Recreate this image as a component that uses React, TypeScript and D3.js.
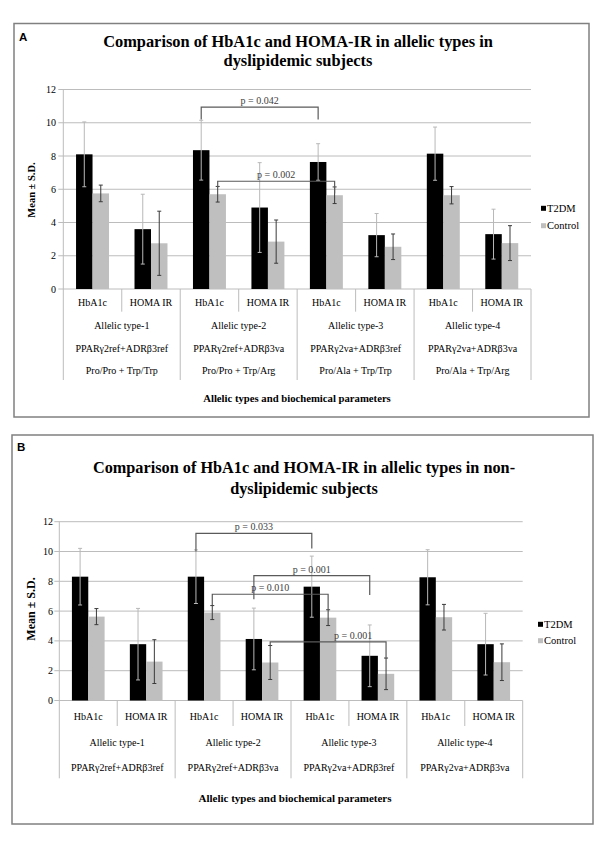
import React from "react";
import * as d3 from "d3";

// ---------- data ----------
const categories = ["HbA1c", "HOMA IR", "HbA1c", "HOMA IR", "HbA1c", "HOMA IR", "HbA1c", "HOMA IR"];
const allelicTypes = ["Allelic type-1", "Allelic type-2", "Allelic type-3", "Allelic type-4"];
const genotypes = ["PPARγ2ref+ADRβ3ref", "PPARγ2ref+ADRβ3va", "PPARγ2va+ADRβ3ref", "PPARγ2va+ADRβ3va"];
const aminoAcids = ["Pro/Pro + Trp/Trp", "Pro/Pro + Trp/Arg", "Pro/Ala + Trp/Trp", "Pro/Ala + Trp/Arg"];
const seriesNames = ["T2DM", "Control"];
const yTicks = [0, 2, 4, 6, 8, 10, 12];

const titleA = ["Comparison of HbA1c and HOMA-IR in allelic types in", "dyslipidemic subjects"];
const titleB = ["Comparison of HbA1c and HOMA-IR in allelic types in non-", "dyslipidemic subjects"];
const yTitle = "Mean ± S.D.";
const xTitle = "Allelic types and biochemical parameters";

// Panel A (dyslipidemic)
const t2dmMeanA = [8.1, 3.6, 8.35, 4.9, 7.64, 3.24, 8.14, 3.3];
const t2dmSdA = [1.95, 2.1, 1.8, 2.7, 1.1, 1.3, 1.6, 1.5];
const controlMeanA = [5.75, 2.75, 5.7, 2.85, 5.64, 2.54, 5.64, 2.76];
const controlSdA = [0.5, 1.93, 0.47, 1.3, 0.5, 0.77, 0.52, 1.05];

// Panel B (non-dyslipidemic)
const t2dmMeanB = [8.31, 3.78, 8.31, 4.13, 7.64, 3.0, 8.27, 3.78];
const t2dmSdB = [1.9, 2.4, 1.8, 2.07, 2.05, 2.07, 1.85, 2.07];
const controlMeanB = [5.63, 2.61, 5.9, 2.55, 5.56, 1.79, 5.59, 2.57];
const controlSdB = [0.54, 1.47, 0.47, 1.14, 0.53, 1.06, 0.86, 1.23];

// significance brackets: category index + series index, bracket heights in data units
const bracketsA = [
  { fromCat: 2, fromSer: 0, toCat: 4, toSer: 0, top: 10.94, leftEnd: 10.2, rightEnd: 10.2, label: "p = 0.042" },
  { fromCat: 2, fromSer: 1, toCat: 4, toSer: 1, top: 6.48, leftEnd: 6.1, rightEnd: 5.74, label: "p = 0.002" },
];
const bracketsB = [
  { fromCat: 2, fromSer: 0, toCat: 4, toSer: 0, top: 11.22, leftEnd: 10.0, rightEnd: 10.2, label: "p = 0.033" },
  { fromCat: 3, fromSer: 0, toCat: 5, toSer: 0, top: 8.38, leftEnd: 6.8, rightEnd: 7.08, label: "p = 0.001" },
  { fromCat: 2, fromSer: 1, toCat: 4, toSer: 1, top: 7.13, leftEnd: 6.41, rightEnd: 6.08, label: "p = 0.010" },
  { fromCat: 3, fromSer: 1, toCat: 5, toSer: 1, top: 3.93, leftEnd: 3.67, rightEnd: 2.84, label: "p = 0.001" },
];

// ---------- styles ----------
const SERIF = "Liberation Serif, Times New Roman, DejaVu Serif, serif";
const SANS = "Liberation Sans, Arial, DejaVu Sans, sans-serif";
const GRID = "#bcbcbc";
const BAR_COLORS = ["#000000", "#bfbfbf"];
const ERR_COLORS = ["#b8b8b8", "#3a3a3a"];
const BRACKET = "#5a5a5a";

type Bracket = typeof bracketsA[number];

interface Geom {
  border: [number, number, number, number];
  letter: string;
  letterPos: [number, number];
  title: string[];
  titleY: number[];
  titleX: number;
  titleSize: number;
  titleScaleX: number;
  xl: number;
  xr: number;
  y0: number;
  y12: number;
  tickRight: number;
  rows: number[];
  tableBottom: number;
  innerSepBottom: number;
  xTitleY: number;
  xTitleX: number;
  xTitleSize: number;
  yTitleX: number;
  yTitleY: number;
  yTitleSize: number;
  legendX: number;
  legendY: number[];
  labelShift: number[];
  rowLabels: string[][];
}

const serif = (size: number, bold = false): React.CSSProperties => ({
  fontFamily: SERIF,
  fontSize: size,
  fontWeight: bold ? 700 : 400,
});

function Panel({ g, means, sds, brackets }: { g: Geom; means: number[][]; sds: number[][]; brackets: Bracket[] }) {
  const y = d3.scaleLinear().domain([0, 12]).range([g.y0, g.y12]);
  const x = d3.scaleBand<number>().domain(d3.range(categories.length)).range([g.xl, g.xr]).paddingInner(0).paddingOuter(0);
  const xs = d3.scaleBand<number>().domain([0, 1]).range([0, x.bandwidth()]).paddingInner(0).paddingOuter(0.773);
  const bw = xs.bandwidth();
  const cx = (c: number, s: number) => (x(c) as number) + (xs(s) as number) + bw / 2;
  const [bx1, by1, bx2, by2] = g.border;

  return (
    <g>
      <rect x={bx1} y={by1} width={bx2 - bx1} height={by2 - by1} fill="#fff" stroke="#808080" strokeWidth={1.5} />
      <text x={g.letterPos[0]} y={g.letterPos[1]} style={{ fontFamily: SANS, fontWeight: 700, fontSize: 11.5 }} fill="#000">
        {g.letter}
      </text>
      {g.title.map((t, i) => (
        <text
          key={i}
          transform={`translate(${g.titleX},${g.titleY[i]}) scale(${g.titleScaleX},1)`}
          dy="0.35em"
          textAnchor="middle"
          style={serif(g.titleSize, true)}
          fill="#000"
        >
          {t}
        </text>
      ))}

      {/* grid + ticks */}
      {yTicks.map((t) => (
        <g key={t}>
          <line x1={g.xl - 5} x2={g.xr} y1={y(t)} y2={y(t)} stroke={GRID} strokeWidth={1} />
          <text x={g.tickRight} y={y(t)} dy="0.35em" textAnchor="end" style={serif(10)} fill="#000">
            {t}
          </text>
        </g>
      ))}
      <line x1={g.xl} x2={g.xl} y1={y(12)} y2={g.tableBottom} stroke={GRID} strokeWidth={1} />

      {/* category table */}
      {d3.range(1, categories.length + 1).map((i) => {
        const xx = i === categories.length ? g.xr : (x(i) as number);
        const full = i % 2 === 0;
        return <line key={i} x1={xx} x2={xx} y1={g.y0} y2={full ? g.tableBottom : g.innerSepBottom} stroke={GRID} strokeWidth={1} />;
      })}
      {categories.map((c, i) => (
        <text key={i} x={(x(i) as number) + x.bandwidth() / 2} y={g.rows[0]} dy="0.35em" textAnchor="middle" style={serif(10)} fill="#000">
          {c}
        </text>
      ))}
      {g.rowLabels.map((labels, r) =>
        labels.map((lab, k) => (
          <text key={r + "-" + k} x={(x(k * 2) as number) + x.bandwidth()} y={g.rows[r + 1]} dy="0.35em" textAnchor="middle" style={serif(10)} fill="#000">
            {lab}
          </text>
        ))
      )}

      {/* bars */}
      {means.map((arr, s) =>
        arr.map((v, i) => (
          <rect key={s + "-" + i} x={(x(i) as number) + (xs(s) as number)} y={y(v)} width={bw} height={y(0) - y(v)} fill={BAR_COLORS[s]} />
        ))
      )}
      {/* error bars */}
      {means.map((arr, s) =>
        arr.map((v, i) => {
          const c = cx(i, s);
          const lo = y(v - sds[s][i]);
          const hi = y(v + sds[s][i]);
          return (
            <g key={"e" + s + "-" + i} stroke={ERR_COLORS[s]} strokeWidth={1}>
              <line x1={c} x2={c} y1={lo} y2={hi} />
              <line x1={c - 2} x2={c + 2} y1={lo} y2={lo} />
              <line x1={c - 2} x2={c + 2} y1={hi} y2={hi} />
            </g>
          );
        })
      )}

      {/* significance brackets */}
      {brackets.map((b, i) => {
        const x1 = cx(b.fromCat, b.fromSer);
        const x2 = cx(b.toCat, b.toSer);
        const path = d3.path();
        path.moveTo(x1, y(b.leftEnd));
        path.lineTo(x1, y(b.top));
        path.lineTo(x2, y(b.top));
        path.lineTo(x2, y(b.rightEnd));
        return (
          <g key={"b" + i}>
            <path d={path.toString()} fill="none" stroke={BRACKET} strokeWidth={1.2} />
            <text x={(x1 + x2) / 2 + g.labelShift[i]} y={y(b.top) - 3} textAnchor="middle" style={serif(10)} fill="#404040">
              {b.label}
            </text>
          </g>
        );
      })}

      {/* axis titles */}
      <text transform={`translate(${g.yTitleX},${g.yTitleY}) rotate(-90)`} dy="0.35em" textAnchor="middle" style={serif(g.yTitleSize, true)} fill="#000">
        {yTitle}
      </text>
      <text x={g.xTitleX} y={g.xTitleY} dy="0.35em" textAnchor="middle" style={serif(g.xTitleSize, true)} fill="#000">
        {xTitle}
      </text>

      {/* legend */}
      {seriesNames.map((n, s) => (
        <g key={n}>
          <rect x={g.legendX} y={g.legendY[s] - 2.5} width={5} height={5} fill={BAR_COLORS[s]} />
          <text x={g.legendX + 6} y={g.legendY[s]} dy="0.35em" style={serif(10.5)} fill="#000">
            {n}
          </text>
        </g>
      ))}
    </g>
  );
}

const geomA: Geom = {
  border: [14, 23.5, 589, 417],
  letter: "A",
  letterPos: [19, 41],
  title: titleA,
  titleY: [41.7, 60.7],
  titleX: 298,
  titleSize: 16.4,
  titleScaleX: 1,
  xl: 63.3,
  xr: 531,
  y0: 289,
  y12: 89.5,
  tickRight: 56,
  rows: [302.7, 325, 348.3, 370.7],
  tableBottom: 380,
  innerSepBottom: 311.7,
  xTitleY: 398,
  xTitleX: 297,
  xTitleSize: 10.7,
  yTitleX: 31,
  yTitleY: 190,
  yTitleSize: 10.5,
  legendX: 541,
  legendY: [208.3, 225.7],
  labelShift: [0, 0],
  rowLabels: [allelicTypes, genotypes, aminoAcids],
};

const geomB: Geom = {
  border: [12, 435, 593, 824],
  letter: "B",
  letterPos: [17, 451],
  title: titleB,
  titleY: [467, 488],
  titleX: 304,
  titleSize: 17.5,
  titleScaleX: 0.93,
  xl: 59.3,
  xr: 522.7,
  y0: 700.5,
  y12: 521.7,
  tickRight: 53,
  rows: [716.7, 742.3, 767.3],
  tableBottom: 778.3,
  innerSepBottom: 726,
  xTitleY: 798.3,
  xTitleX: 295,
  xTitleSize: 11,
  yTitleX: 31,
  yTitleY: 609,
  yTitleSize: 12,
  legendX: 538,
  legendY: [624.3, 640.7],
  labelShift: [0, 0, 0, 25],
  rowLabels: [allelicTypes, genotypes],
};

export default function App() {
  return (
    <svg width={606} height={843} style={{ position: "absolute", left: 0, top: 0, background: "#fff" }}>
      <rect x={0} y={0} width={606} height={843} fill="#fff" />
      <Panel g={geomA} means={[t2dmMeanA, controlMeanA]} sds={[t2dmSdA, controlSdA]} brackets={bracketsA} />
      <Panel g={geomB} means={[t2dmMeanB, controlMeanB]} sds={[t2dmSdB, controlSdB]} brackets={bracketsB} />
    </svg>
  );
}
